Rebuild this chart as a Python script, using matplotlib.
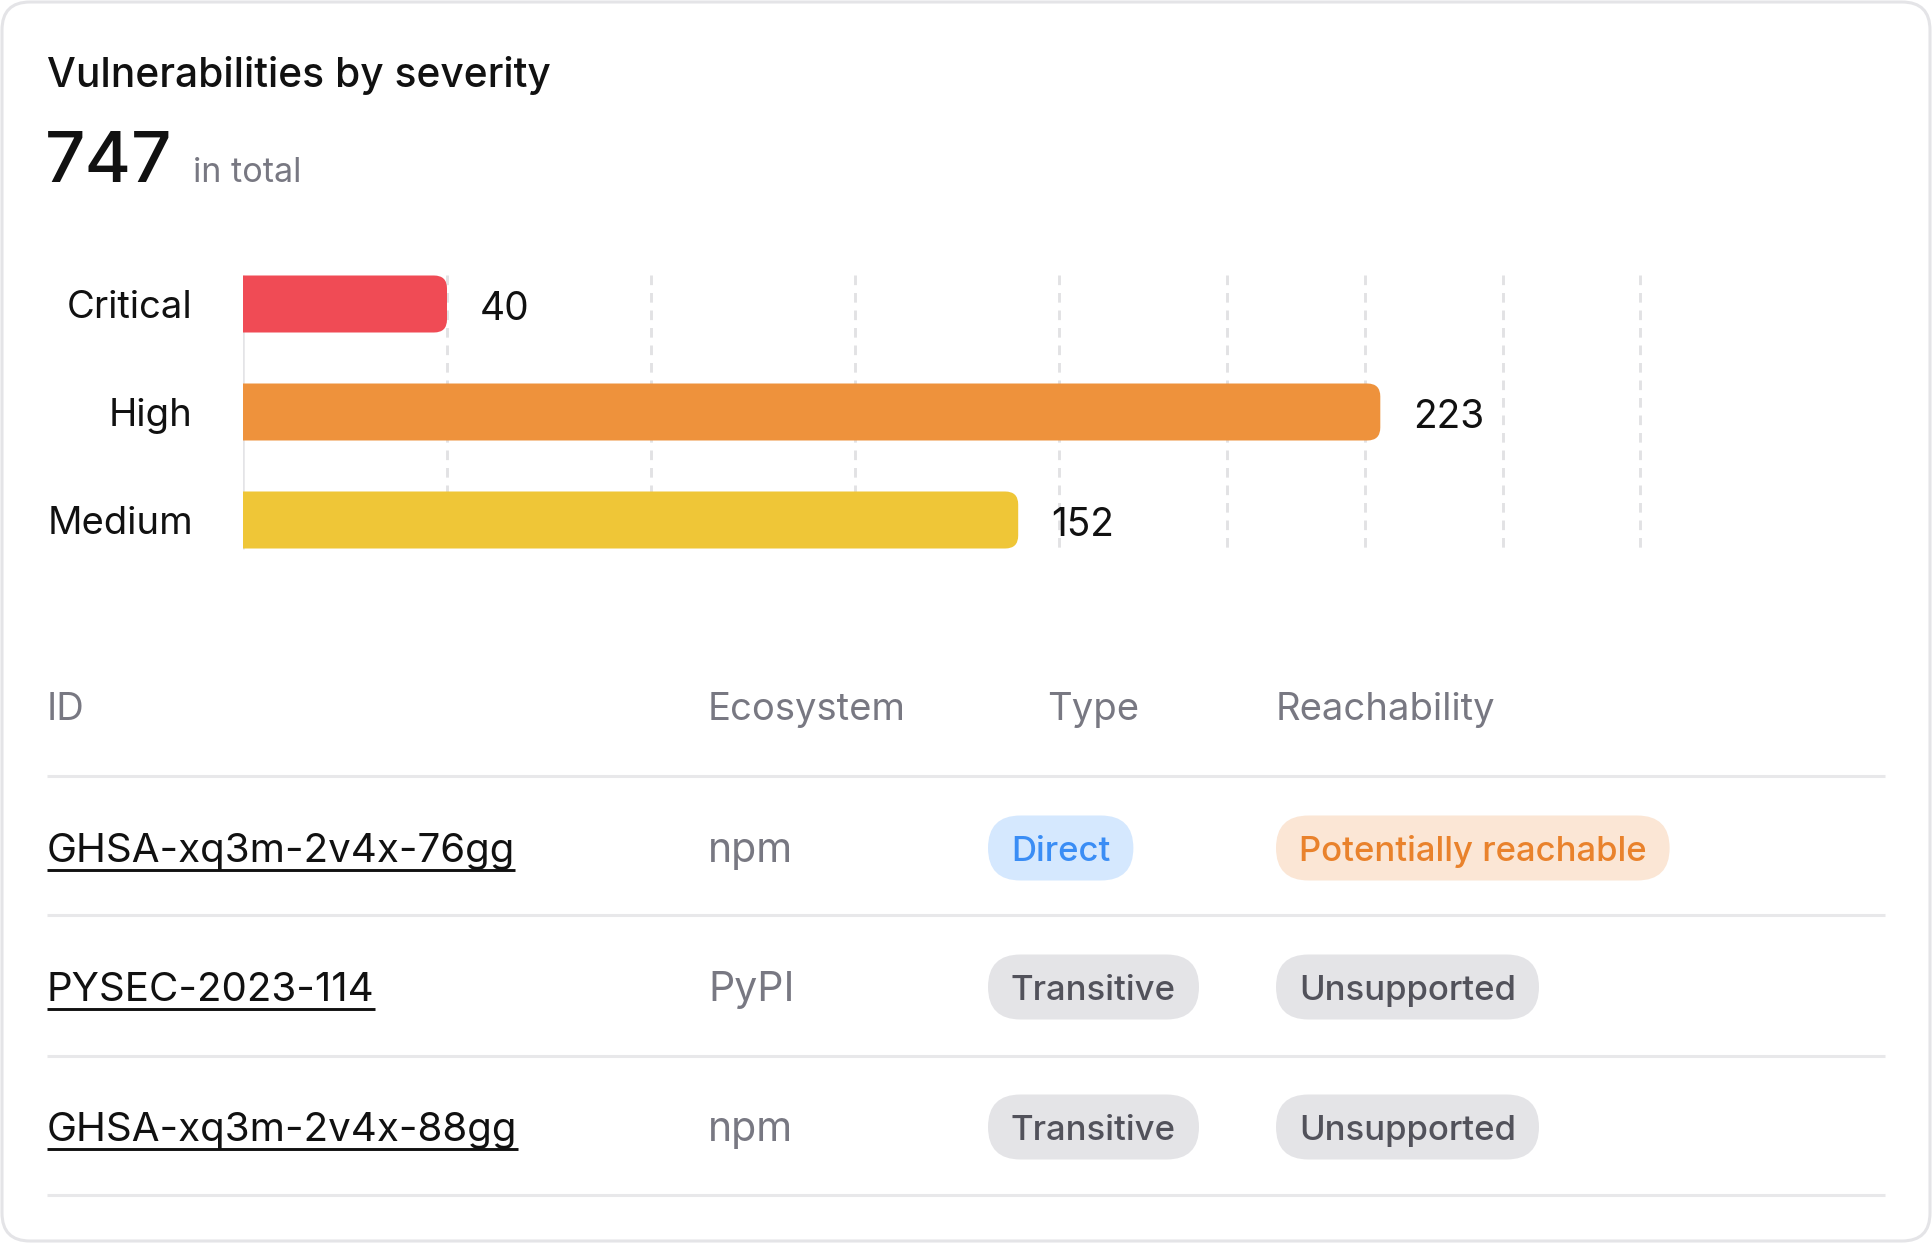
import matplotlib.pyplot as plt
from matplotlib.patches import FancyBboxPatch

plt.rcParams['font.family'] = ['Inter', 'DejaVu Sans']

# data
severity = ['Critical', 'High', 'Medium']
counts = [40, 223, 152]
bar_colors = ['#F04B55', '#EE923C', '#EFC637']
grid_ticks = [40, 80, 120, 160, 193, 220, 247, 274]
total = 747

headers = ['ID', 'Ecosystem', 'Type', 'Reachability']
ids = ['GHSA-xq3m-2v4x-76gg', 'PYSEC-2023-114', 'GHSA-xq3m-2v4x-88gg']
ecosystems = ['npm', 'PyPI', 'npm']
dep_types = ['Direct', 'Transitive', 'Transitive']
reachability = ['Potentially reachable', 'Unsupported', 'Unsupported']

W, H, DPI = 1932, 1244, 100
GRAY_TXT = '#787882'
LINE = '#E8E8EA'

fig = plt.figure(figsize=(W / DPI, H / DPI), dpi=DPI)
bg = fig.add_axes([0, 0, 1, 1])
bg.set_xlim(0, W)
bg.set_ylim(H, 0)
bg.axis('off')

# card
bg.add_patch(FancyBboxPatch((2, 2), W - 4, H - 5, boxstyle='round,pad=0,rounding_size=28',
                            fc='white', ec='#E4E4E7', lw=2.2))

bg.text(47, 87, 'Vulnerabilities by severity', fontsize=29.3, weight='medium', color='#111111')
bg.text(45, 182, str(total), fontsize=51, weight='medium', color='#111111')
bg.text(193, 182, 'in total', fontsize=24.6, color=GRAY_TXT)

# bar chart
px_per_unit = 5.1
row_px = 108
h = 57 / row_px
ax = fig.add_axes([243 / W, (H - 552.4) / H, 280 * px_per_unit / W, 2.6 * row_px / H])
ax.set_xlim(0, 280)
ax.set_ylim(2.3, -0.3)
ax.axis('off')
pos = list(range(len(counts)))

ax.vlines(grid_ticks, -h / 2, 2 + h / 2, colors='#E2E2E4', linestyles=(0, (3.3, 2.7)), lw=2.1, zorder=1)
ax.vlines([0], -h / 2, 2 + h / 2, colors='#E4E4E7', lw=1.8, zorder=1)

# bars from barh, redrawn with a rounded right end (left end is cut by the axes edge)
r = 13 / px_per_unit
bars = ax.barh(pos, counts, height=h, color=bar_colors, zorder=2)
for bar in bars:
    x0, y0, bw, bh = bar.get_x(), bar.get_y(), bar.get_width(), bar.get_height()
    ax.add_patch(FancyBboxPatch((x0 - r, y0), bw + r, bh, boxstyle=f'round,pad=0,rounding_size={r}',
                                mutation_aspect=px_per_unit / row_px, fc=bar.get_facecolor(),
                                ec='none', zorder=2))
    bar.set_visible(False)

for i, v in enumerate(counts):
    ax.annotate(str(v), (v, i), xytext=(23.5, -11.2), textcoords='offset points',
                fontsize=28, color='#111111', va='baseline')
    ax.annotate(severity[i], (0, i), xytext=(-36, -10), textcoords='offset points',
                fontsize=27.5, color='#111111', va='baseline', ha='right')

# table
renderer = fig.canvas.get_renderer()
col_x = [47, 708, 1047, 1276]
header_y = 706
row_y = [848, 987, 1127]
sep_y = [776, 915, 1056, 1195]

for x, label in zip(col_x, headers):
    bg.text(x, header_y + 14, label, fontsize=27.5, color=GRAY_TXT, va='baseline')
for y in sep_y:
    bg.plot([47, 1885], [y, y], color=LINE, lw=2.2, solid_capstyle='butt')


def pill(x, yc, label, fc, tc):
    t = bg.text(x + 23, yc + 13, label, fontsize=25, weight='medium', color=tc, va='baseline', zorder=3)
    bb = t.get_window_extent(renderer)
    bg.add_patch(FancyBboxPatch((x, yc - 32.5), bb.width + 46, 65,
                                boxstyle='round,pad=0,rounding_size=32.5', fc=fc, ec='none', zorder=2))


pill_style = {
    'Direct': ('#D5E8FE', '#3A8DF5'),
    'Transitive': ('#E4E4E7', '#52525B'),
    'Potentially reachable': ('#FBE6D5', '#E9822C'),
    'Unsupported': ('#E4E4E7', '#52525B'),
}

for i, yc in enumerate(row_y):
    t = bg.text(col_x[0], yc + 14, ids[i], fontsize=29, color='#111111', va='baseline')
    bb = t.get_window_extent(renderer)
    bg.plot([bb.x0, bb.x1], [yc + 22, yc + 22], color='#111111', lw=2.1, solid_capstyle='butt')
    bg.text(col_x[1], yc + 14, ecosystems[i], fontsize=29.5, color=GRAY_TXT, va='baseline')
    pill(988, yc, dep_types[i], *pill_style[dep_types[i]])
    pill(col_x[3], yc, reachability[i], *pill_style[reachability[i]])

fig.savefig('out.png', dpi=DPI, facecolor='white')
